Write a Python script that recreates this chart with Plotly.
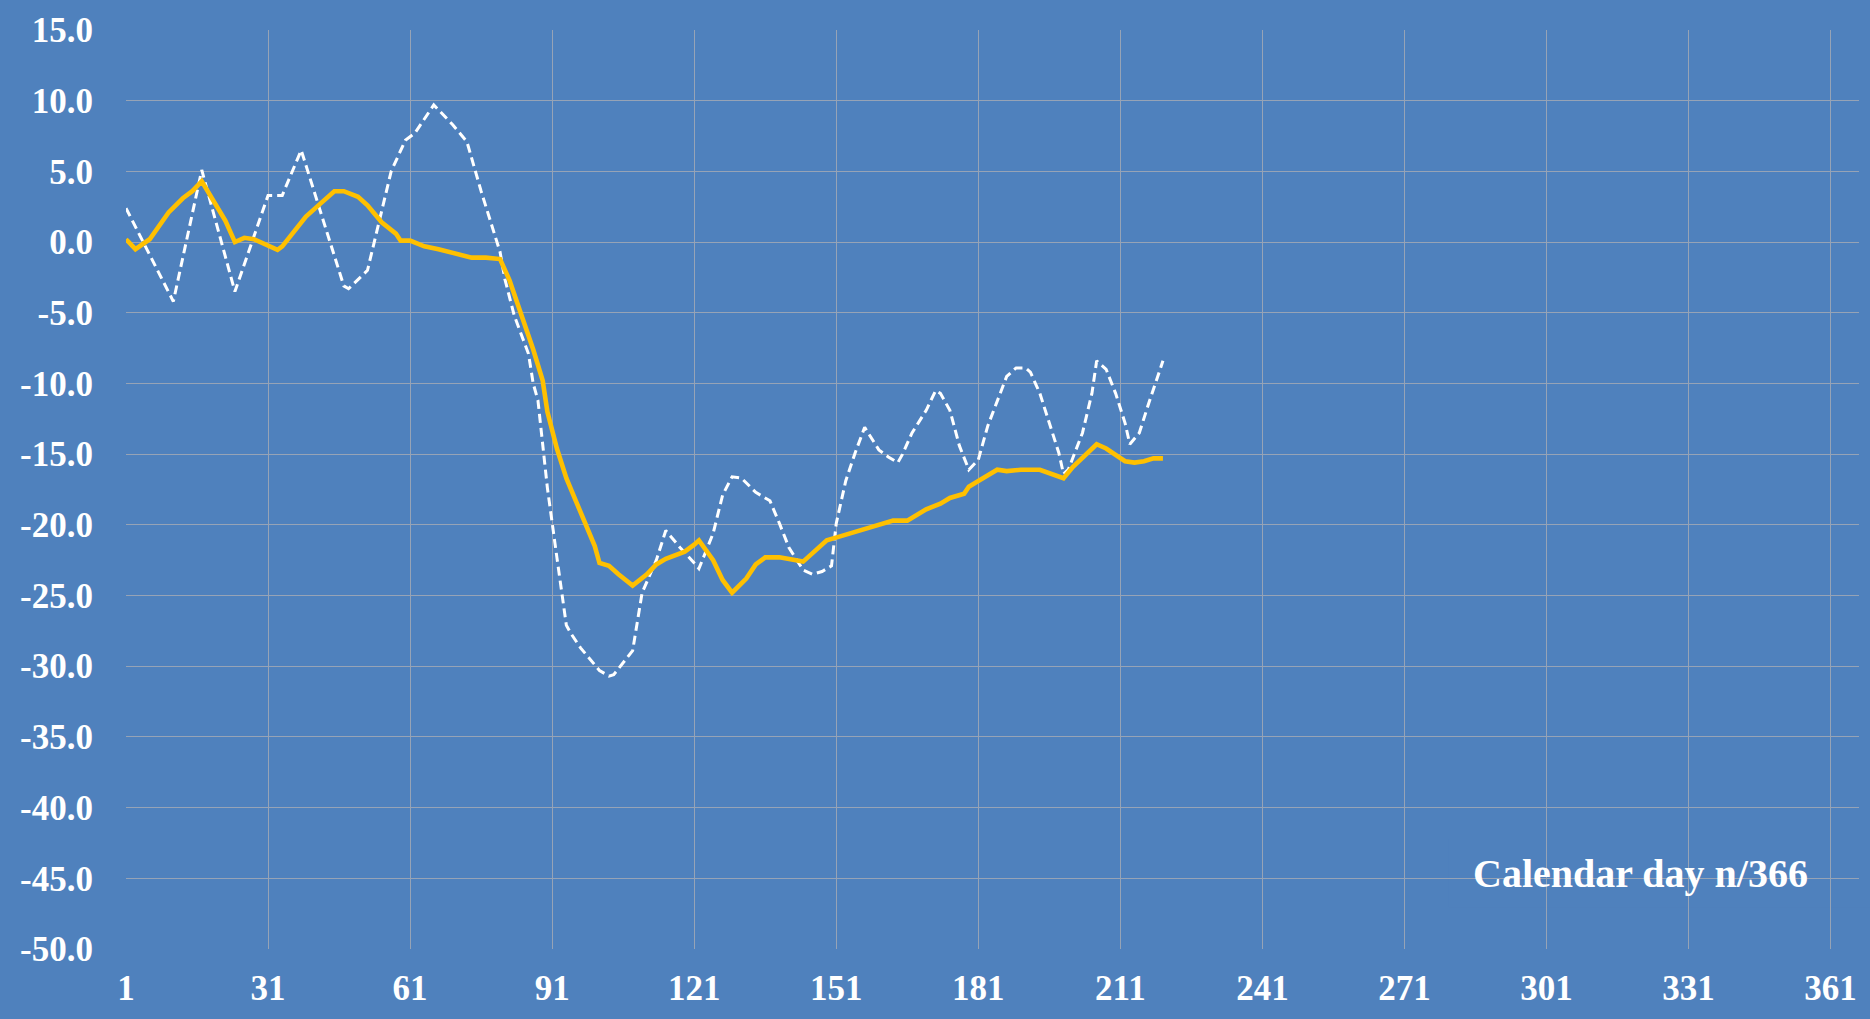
import plotly.graph_objects as go

# ---- data ----
yellow_days = [1, 3, 6, 8, 10, 13, 15, 17, 20, 22, 24, 26, 28, 31, 33, 34, 37, 39, 42, 45, 47, 50,
               52, 55, 58, 59, 61, 64, 67, 71, 74, 77, 80, 82, 85, 87, 89, 90, 92, 94, 96, 98,
               100, 101, 103, 105, 108, 111, 113, 115, 119, 121, 122, 125, 127, 129, 132, 134,
               136, 139, 141, 144, 146, 149, 152, 155, 157, 160, 163, 166, 168, 170, 173, 175,
               178, 179, 181, 183, 185, 187, 190, 194, 197, 199, 201, 204, 206, 208, 210, 212,
               214, 216, 218, 220]
yellow_vals = [0.2, -0.5, 0.2, 1.2, 2.1, 3.1, 3.6, 4.3, 2.7, 1.5, 0.0, 0.3, 0.2, -0.3, -0.55, -0.3,
               0.9, 1.8, 2.7, 3.6, 3.6, 3.2, 2.6, 1.4, 0.6, 0.1, 0.1, -0.3, -0.5, -0.8, -1.1, -1.1,
               -1.2, -2.7, -5.6, -7.6, -9.8, -12.0, -14.6, -16.7, -18.3, -19.8, -21.5, -22.7,
               -22.9, -23.5, -24.3, -23.5, -22.8, -22.4, -21.9, -21.4, -21.1, -22.5, -23.9, -24.8,
               -23.8, -22.8, -22.3, -22.3, -22.4, -22.6, -22.0, -21.1, -20.8, -20.5, -20.3, -20.0,
               -19.7, -19.7, -19.3, -18.9, -18.5, -18.1, -17.8, -17.3, -16.9, -16.5, -16.1, -16.2,
               -16.1, -16.1, -16.5, -16.7, -15.9, -15.0, -14.3, -14.6, -15.1, -15.5, -15.6, -15.5,
               -15.3, -15.3]

white_days = [1, 11, 17, 24, 31, 34, 38, 47, 48, 52, 57, 60, 62, 66, 70, 73, 76, 80, 81, 83, 86,
              87, 88, 89, 90, 92, 94, 95, 97, 101, 103, 104, 108, 110, 113, 115, 118, 121, 122,
              125, 127, 129, 131, 134, 137, 139, 141, 144, 146, 148, 150, 151, 153, 155, 157,
              160, 162, 164, 165, 167, 170, 172, 173, 175, 177, 179, 181, 183, 185, 187, 189,
              191, 192, 194, 196, 198, 199, 200, 203, 205, 206, 208, 210, 212, 213, 215, 217, 220]
white_vals = [2.4, -4.2, 5.1, -3.5, 3.3, 3.3, 6.5, -3.1, -3.3, -2.0, 5.0, 7.2, 7.7, 9.7, 8.3, 7.1,
              3.6, -0.7, -2.6, -5.2, -7.9, -10.0, -11.2, -14.2, -17.4, -22.3, -27.1, -27.7, -28.7,
              -30.3, -30.7, -30.6, -28.9, -24.8, -22.5, -20.4, -21.6, -22.7, -23.1, -20.6, -17.9,
              -16.6, -16.7, -17.7, -18.3, -19.9, -21.6, -23.2, -23.5, -23.3, -22.9, -19.9, -16.9,
              -14.9, -13.1, -14.7, -15.2, -15.6, -15.0, -13.5, -11.9, -10.5, -10.7, -11.9, -14.4,
              -16.1, -15.4, -13.0, -11.2, -9.5, -8.9, -8.9, -9.2, -10.7, -12.8, -14.9, -16.4,
              -16.1, -13.5, -10.7, -8.4, -9.0, -10.7, -12.8, -14.3, -13.5, -11.4, -8.4]

x_ticks = [1, 31, 61, 91, 121, 151, 181, 211, 241, 271, 301, 331, 361]
y_ticks = [15, 10, 5, 0, -5, -10, -15, -20, -25, -30, -35, -40, -45, -50]
axis_title = "Calendar day n/366"

BG = "#4F81BD"
GRID = "rgb(150,163,182)"
FONT = "Liberation Serif"

fig = go.Figure()
fig.add_trace(go.Scatter(x=white_days, y=white_vals, mode="lines",
                         line=dict(color="white", width=3.0, dash="9px,5px"),
                         showlegend=False, hoverinfo="skip"))
fig.add_trace(go.Scatter(x=yellow_days, y=yellow_vals, mode="lines",
                         line=dict(color="#FFC000", width=4.6),
                         showlegend=False, hoverinfo="skip"))

fig.update_layout(
    width=1870, height=1019,
    paper_bgcolor=BG, plot_bgcolor=BG,
    margin=dict(l=126, r=11, t=26, b=56),
    showlegend=False,
    xaxis=dict(range=[1, 367], tickmode="array", tickvals=x_ticks,
               ticktext=[str(v) for v in x_ticks],
               showgrid=True, gridcolor=GRID, gridwidth=1,
               zeroline=False, showline=False, ticks="",
               ticklabelstandoff=15,
               tickfont=dict(family=FONT, size=35, color="white", weight="bold")),
    yaxis=dict(range=[-50, 15], tickmode="array", tickvals=y_ticks,
               ticktext=[f"{v:.1f}" for v in y_ticks],
               showgrid=True, gridcolor=GRID, gridwidth=1,
               zeroline=False, showline=False, ticks="",
               ticklabelstandoff=32,
               tickfont=dict(family=FONT, size=35, color="white", weight="bold")),
    shapes=[dict(type="rect", xref="paper", yref="paper",
                 x0=0.7634, x1=1.02, y0=0.0449, y1=0.1197,
                 fillcolor=BG, line=dict(width=0), layer="between")],
    annotations=[dict(text=axis_title, xref="paper", yref="paper",
                      x=0.8737, y=0.0823, xanchor="center", yanchor="middle",
                      showarrow=False,
                      font=dict(family=FONT, size=40, color="white", weight="bold"))],
)

fig.write_html("out.html", config={"displayModeBar": False},
               post_script="document.body.style.margin='0';document.body.style.overflow='hidden';document.body.style.background='%s';" % BG)
